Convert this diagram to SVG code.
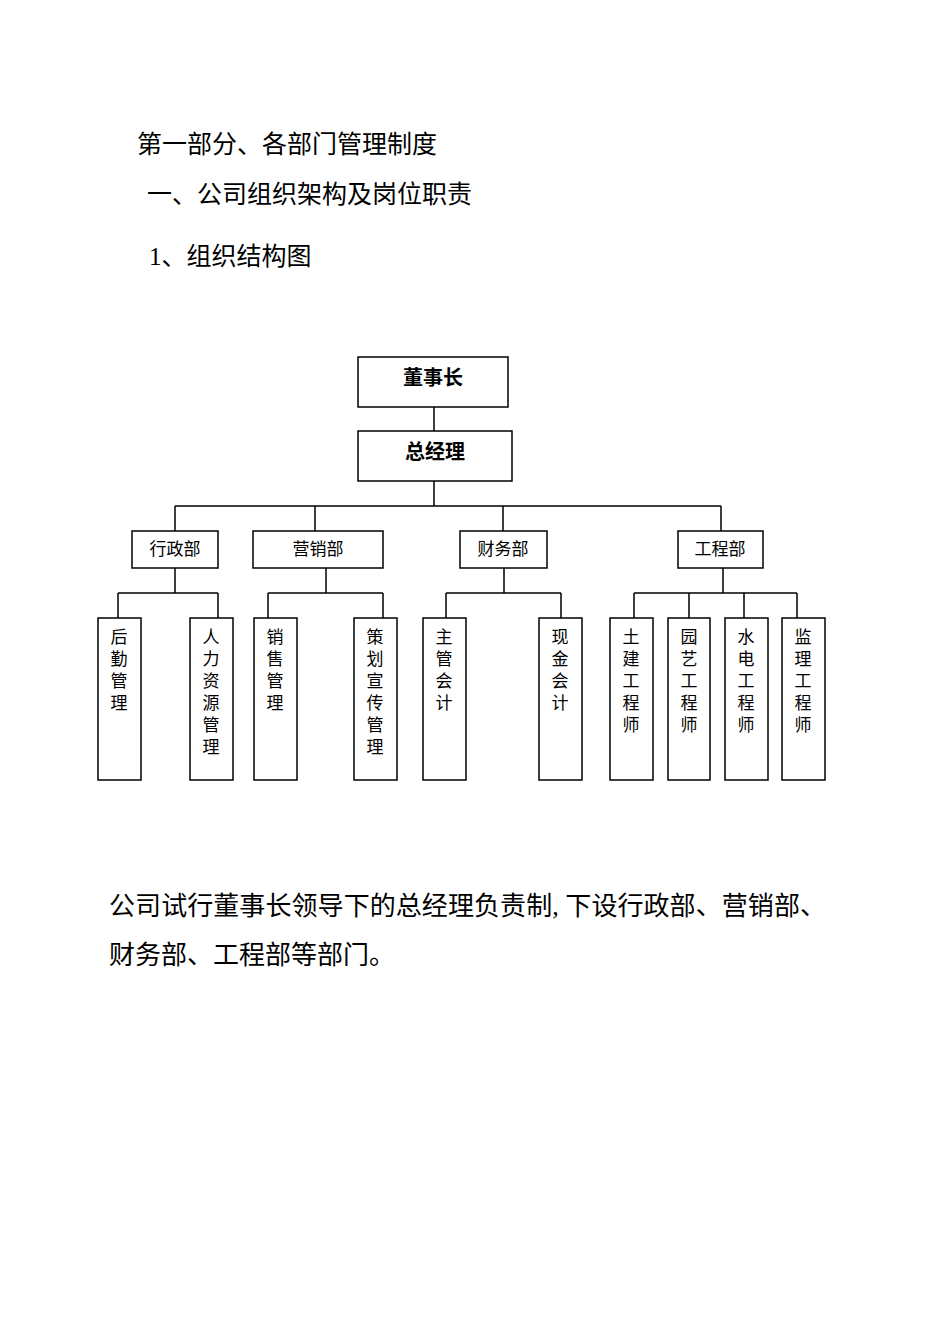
<svg xmlns="http://www.w3.org/2000/svg" width="950" height="1344" viewBox="0 0 950 1344">
<style>
text{font-family:"Liberation Serif","Noto Sans CJK SC",serif;fill:#000}
.h{font-size:25px}
.p{font-size:26px}
.b rect{fill:#fff;stroke:#000;stroke-width:1.5}
.t{font-family:"Noto Sans CJK SC",sans-serif;font-size:20px;font-weight:bold;text-anchor:middle}
.d{font-family:"Noto Sans CJK SC",sans-serif;font-size:17px;text-anchor:middle}
.v{font-family:"Noto Sans CJK SC",sans-serif;font-size:17px;text-anchor:middle}
#connectors path{fill:none;stroke:#000;stroke-width:1.5}
</style>
<rect width="950" height="1344" fill="#fff"/>
<text class="h" x="137" y="153">第一部分、各部门管理制度</text>
<text class="h" x="147" y="203">一、公司组织架构及岗位职责</text>
<text class="h" x="149" y="265">1、组织结构图</text>
<g id="connectors">
<path d="M434 407V431M434 481V506M175 506H721M175 506V531M315 506V531M503 506V531M721 506V531"/>
<path d="M175 568V593M118 593H218M118 593V618M218 593V618"/>
<path d="M326 568V593M268 593H383M268 593V618M383 593V618"/>
<path d="M504 568V593M446 593H561M446 593V618M561 593V618"/>
<path d="M723 568V593M634 593H797M634 593V618M689 593V618M744 593V618M797 593V618"/>
</g>
<g class="b">
<g id="n-dsz"><rect x="358" y="357" width="150" height="50"/><text class="t" x="433" y="385">董事长</text></g>
<g id="n-zjl"><rect x="358" y="431" width="154" height="50"/><text class="t" x="435" y="459">总经理</text></g>
<g id="n-xz"><rect x="132" y="531" width="86" height="37"/><text class="d" x="175" y="555">行政部</text></g>
<g id="n-yx"><rect x="253" y="531" width="130" height="37"/><text class="d" x="318" y="555">营销部</text></g>
<g id="n-cw"><rect x="460" y="531" width="87" height="37"/><text class="d" x="503" y="555">财务部</text></g>
<g id="n-gc"><rect x="678" y="531" width="85" height="37"/><text class="d" x="720" y="555">工程部</text></g>
<g id="n1"><rect x="98" y="618" width="43" height="162"/><text class="v" x="119" y="643"><tspan x="119">后</tspan><tspan x="119" dy="22">勤</tspan><tspan x="119" dy="22">管</tspan><tspan x="119" dy="22">理</tspan></text></g>
<g id="n2"><rect x="190" y="618" width="43" height="162"/><text class="v" x="211" y="643"><tspan x="211">人</tspan><tspan x="211" dy="22">力</tspan><tspan x="211" dy="22">资</tspan><tspan x="211" dy="22">源</tspan><tspan x="211" dy="22">管</tspan><tspan x="211" dy="22">理</tspan></text></g>
<g id="n3"><rect x="254" y="618" width="43" height="162"/><text class="v" x="275" y="643"><tspan x="275">销</tspan><tspan x="275" dy="22">售</tspan><tspan x="275" dy="22">管</tspan><tspan x="275" dy="22">理</tspan></text></g>
<g id="n4"><rect x="354" y="618" width="43" height="162"/><text class="v" x="375" y="643"><tspan x="375">策</tspan><tspan x="375" dy="22">划</tspan><tspan x="375" dy="22">宣</tspan><tspan x="375" dy="22">传</tspan><tspan x="375" dy="22">管</tspan><tspan x="375" dy="22">理</tspan></text></g>
<g id="n5"><rect x="423" y="618" width="43" height="162"/><text class="v" x="444" y="643"><tspan x="444">主</tspan><tspan x="444" dy="22">管</tspan><tspan x="444" dy="22">会</tspan><tspan x="444" dy="22">计</tspan></text></g>
<g id="n6"><rect x="539" y="618" width="43" height="162"/><text class="v" x="560" y="643"><tspan x="560">现</tspan><tspan x="560" dy="22">金</tspan><tspan x="560" dy="22">会</tspan><tspan x="560" dy="22">计</tspan></text></g>
<g id="n7"><rect x="610" y="618" width="43" height="162"/><text class="v" x="631" y="643"><tspan x="631">土</tspan><tspan x="631" dy="22">建</tspan><tspan x="631" dy="22">工</tspan><tspan x="631" dy="22">程</tspan><tspan x="631" dy="22">师</tspan></text></g>
<g id="n8"><rect x="668" y="618" width="42" height="162"/><text class="v" x="689" y="643"><tspan x="689">园</tspan><tspan x="689" dy="22">艺</tspan><tspan x="689" dy="22">工</tspan><tspan x="689" dy="22">程</tspan><tspan x="689" dy="22">师</tspan></text></g>
<g id="n9"><rect x="725" y="618" width="43" height="162"/><text class="v" x="746" y="643"><tspan x="746">水</tspan><tspan x="746" dy="22">电</tspan><tspan x="746" dy="22">工</tspan><tspan x="746" dy="22">程</tspan><tspan x="746" dy="22">师</tspan></text></g>
<g id="n10"><rect x="782" y="618" width="43" height="162"/><text class="v" x="803" y="643"><tspan x="803">监</tspan><tspan x="803" dy="22">理</tspan><tspan x="803" dy="22">工</tspan><tspan x="803" dy="22">程</tspan><tspan x="803" dy="22">师</tspan></text></g>
</g>
<text class="p" x="109" y="915" textLength="717" lengthAdjust="spacing">公司试行董事长领导下的总经理负责制, 下设行政部、营销部、</text>
<text class="p" x="109" y="964">财务部、工程部等部门。</text>
</svg>
